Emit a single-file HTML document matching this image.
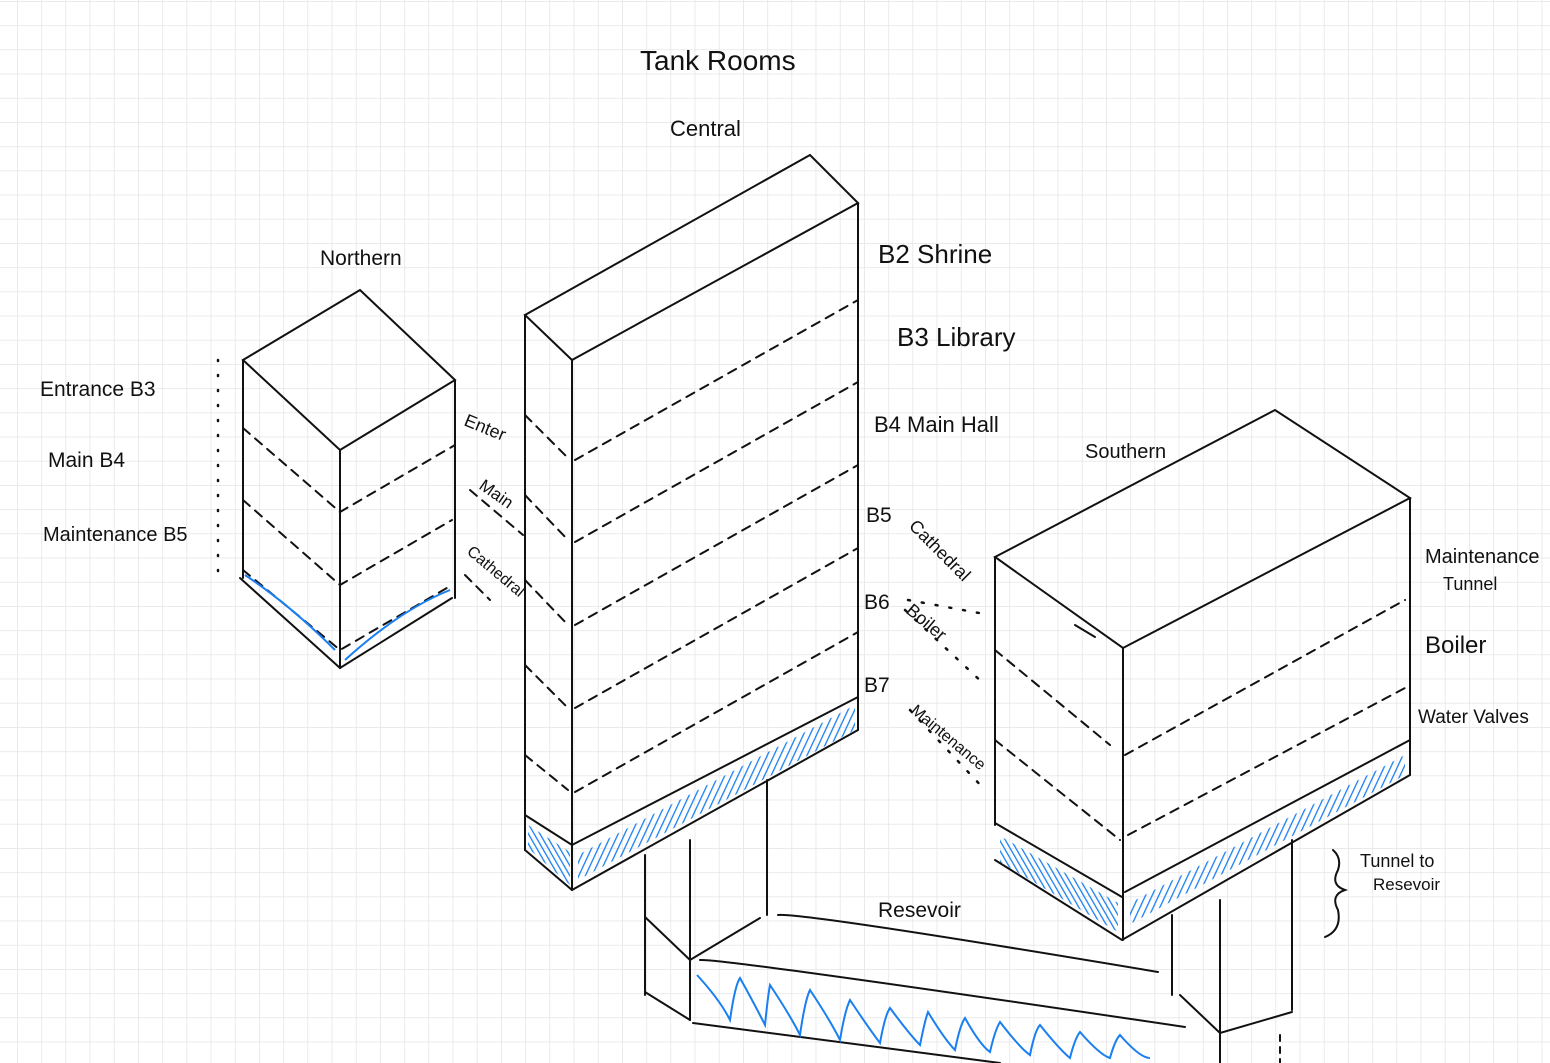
<!DOCTYPE html>
<html><head><meta charset="utf-8"><style>
html,body{margin:0;padding:0;background:#fff;}
svg{display:block;}
text{font-family:"Liberation Sans Narrow","Liberation Sans",sans-serif;fill:#111;}
</style></head><body>
<svg width="1550" height="1063" viewBox="0 0 1550 1063" xmlns="http://www.w3.org/2000/svg">
<defs>
<pattern id="g" x="17" y="1" width="24.2" height="24.2" patternUnits="userSpaceOnUse">
<path d="M0 0H24.2M0 0V24.2" stroke="#e4e4e4" stroke-width="1.5" fill="none"/>
</pattern>
<pattern id="h1" width="6" height="6" patternUnits="userSpaceOnUse" patternTransform="rotate(25)">
<path d="M0 0V6" stroke="#1a7ff0" stroke-width="2.6"/>
</pattern>
<pattern id="h2" width="5" height="5" patternUnits="userSpaceOnUse" patternTransform="rotate(-30)">
<path d="M0 0V5" stroke="#1a7ff0" stroke-width="2.6"/>
</pattern>
</defs>
<rect width="1550" height="1063" fill="url(#g)"/>
<!-- blue hatching bands -->
<polygon points="528,825 570,852 570,885 528,848" fill="url(#h2)"/>
<polygon points="578,855 855,705 855,730 578,880" fill="url(#h1)"/>
<polygon points="1000,836 1118,903 1118,932 1000,862" fill="url(#h2)"/>
<polygon points="1130,903 1405,755 1405,775 1130,924" fill="url(#h1)"/>
<g stroke="#111" stroke-width="2" fill="none" stroke-linecap="round">
<!-- Northern -->
<path d="M243 360 L360 290 L455 380 L340 450 Z"/>
<path d="M243 360 V578 M340 450 V668 M455 380 V598"/>
<path d="M240 578 L340 668 L452 598"/>
<g stroke-dasharray="9 7">
<path d="M243 428 L340 512 L455 445"/>
<path d="M243 500 L340 585 L452 520"/>
<path d="M243 570 L340 650 L452 585"/>
</g>
<path d="M218 360 V578" stroke-dasharray="1 14" stroke-width="2.5"/>
<!-- Central -->
<path d="M525 315 L810 155 L858 203 L572 360 Z"/>
<path d="M525 315 V850 M572 360 V890 M858 203 V730"/>
<path d="M525 850 L572 890 L858 730"/>
<path d="M525 815 L572 845 L858 697"/>
<g stroke-dasharray="9 7">
<path d="M575 460 L858 300 M575 542 L858 382 M575 625 L858 465 M575 708 L858 548 M575 792 L858 632"/>
<path d="M525 415 L568 458 M525 495 L568 540 M525 580 L568 625 M525 665 L568 708 M525 755 L568 790"/>
<path d="M470 490 L523 535 M465 575 L490 600"/>
</g>
<!-- Southern -->
<path d="M995 557 L1275 410 L1410 498 L1123 648 Z"/>
<path d="M995 557 V825 M1123 648 V940 M1410 498 V775"/>
<path d="M995 823 L1122 897 M995 860 L1122 940 L1410 775 M1125 892 L1410 740"/>
<g stroke-dasharray="9 7">
<path d="M1125 755 L1405 600 M1128 835 L1405 688"/>
<path d="M995 650 L1110 745 M995 740 L1120 840"/>
</g>
<path d="M1075 625 L1095 637"/>
<path d="M908 600 L990 615 M905 610 L985 685 M910 710 L985 790" stroke-dasharray="2 12" stroke-width="2.5"/>
<!-- pillars -->
<path d="M645 855 V995 M690 840 V1020 M767 780 V915"/>
<path d="M645 917 L690 960 L760 918 M645 992 L690 1020"/>
<path d="M1172 915 V995 M1220 900 V1063 M1292 840 V1010"/>
<path d="M1180 995 L1220 1033 L1292 1012"/>
<path d="M1280 1035 V1063" stroke-dasharray="6 6"/>
<!-- reservoir -->
<path d="M778 915 Q800 912 1158 972"/>
<path d="M700 960 Q720 958 1185 1027"/>
<path d="M693 1023 L1000 1063"/>
<!-- brace -->
<path d="M1333 850 Q1342 858 1338 870 Q1330 885 1345 890 Q1330 895 1338 910 Q1342 930 1325 937"/>
</g>
<g stroke="#1a7ff0" stroke-width="2" fill="none">
<path d="M245 575 Q290 605 335 650 M345 660 Q400 610 450 590"/>
<path d="M697 975 Q720 1000 730 1020 Q735 985 740 978 Q755 1005 765 1025 Q768 995 770 985 Q790 1015 800 1035 Q805 1000 810 990 Q830 1020 840 1040 Q845 1010 850 1000 Q870 1030 880 1043 Q885 1015 890 1008 Q910 1035 920 1045 Q925 1020 928 1012 Q945 1040 955 1050 Q960 1025 965 1018 Q980 1045 990 1052 Q995 1030 1000 1022 Q1020 1048 1030 1055 Q1035 1030 1040 1025 Q1060 1050 1070 1058 Q1075 1038 1080 1032 Q1100 1055 1110 1058 Q1115 1040 1120 1035 Q1140 1058 1150 1058"/>
</g>
<text x="640" y="70" font-size="28">Tank Rooms</text>
<text x="670" y="136" font-size="22">Central</text>
<text x="320" y="265" font-size="21">Northern</text>
<text x="1085" y="458" font-size="20">Southern</text>
<text x="878" y="263" font-size="26">B2 Shrine</text>
<text x="897" y="346" font-size="26">B3 Library</text>
<text x="874" y="432" font-size="22">B4 Main Hall</text>
<text x="866" y="522" font-size="21">B5</text>
<text x="864" y="609" font-size="21">B6</text>
<text x="864" y="692" font-size="21">B7</text>
<text x="0" y="0" font-size="18" transform="translate(908,527) rotate(45)">Cathedral</text>
<text x="0" y="0" font-size="18" transform="translate(905,612) rotate(40)">Boiler</text>
<text x="0" y="0" font-size="16" transform="translate(910,712) rotate(40)">Maintenance</text>
<text x="0" y="0" font-size="18" transform="translate(463,425) rotate(22)">Enter</text>
<text x="0" y="0" font-size="17" transform="translate(478,488) rotate(35)">Main</text>
<text x="0" y="0" font-size="16" transform="translate(466,553) rotate(40)">Cathedral</text>
<text x="40" y="396" font-size="21">Entrance  B3</text>
<text x="48" y="467" font-size="21">Main      B4</text>
<text x="43" y="541" font-size="20">Maintenance B5</text>
<text x="1425" y="563" font-size="20">Maintenance</text>
<text x="1443" y="590" font-size="18">Tunnel</text>
<text x="1425" y="653" font-size="24">Boiler</text>
<text x="1418" y="723" font-size="19">Water Valves</text>
<text x="1360" y="867" font-size="18">Tunnel to</text>
<text x="1373" y="890" font-size="17">Resevoir</text>
<text x="878" y="917" font-size="21">Resevoir</text>
</svg>
</body></html>
